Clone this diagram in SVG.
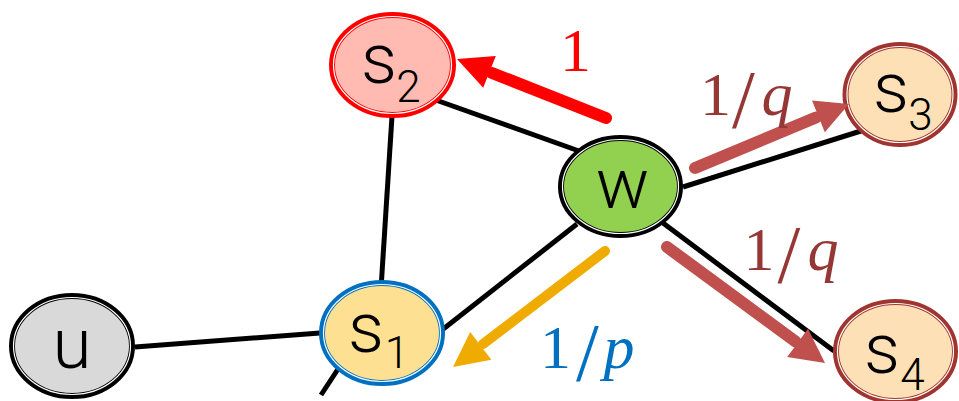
<svg xmlns="http://www.w3.org/2000/svg" width="959" height="401" viewBox="0 0 959 401">
<defs>
<style>
.edge{stroke:#000;stroke-width:5;fill:none;stroke-linecap:butt}
.node{stroke-width:6}
.gap{fill:none;stroke:#fff;stroke-width:1.2}
.lbl{font-family:Roboto,"Liberation Sans",sans-serif;font-weight:300;fill:#000;text-anchor:middle}
.main{font-size:71px}
.sub{font-size:44px}
.math{font-family:"Liberation Serif","DejaVu Serif",serif;font-size:62px;text-anchor:middle}
.sl{font-size:82px}
.it{font-style:italic}
.shaft{fill:none;stroke-linecap:round}
</style>
</defs>
<rect width="959" height="401" fill="#fff"/>
<g id="connectors">
<line class="edge" x1="135" y1="347" x2="320" y2="333"/>
<line class="edge" x1="392" y1="116" x2="381.5" y2="281"/>
<line class="edge" x1="433" y1="99" x2="579" y2="151"/>
<line class="edge" x1="683" y1="187" x2="864" y2="130"/>
<line class="edge" x1="663" y1="223" x2="834" y2="351"/>
<line class="edge" x1="577" y1="224" x2="442" y2="330"/>
<line class="edge" x1="340" y1="366" x2="321" y2="395"/>
</g>
<g id="node-u">
<ellipse class="node" cx="72" cy="346" rx="60" ry="50" fill="#d9d9d9" stroke="#000"/>
<ellipse class="gap" cx="72" cy="346" rx="58.5" ry="48.5"/>
<text class="lbl main" x="72" y="368">u</text>
</g>
<g id="node-s1">
<ellipse class="node" cx="382" cy="333" rx="60" ry="50" fill="#fee093" stroke="#0070c0"/>
<ellipse class="gap" cx="382" cy="333" rx="58.5" ry="48.5"/>
<text class="lbl"><tspan class="main" x="366" y="352">s</tspan><tspan class="sub" x="397" y="368">1</tspan></text>
</g>
<g id="node-s2">
<ellipse class="node" cx="392.5" cy="65" rx="60.5" ry="50" fill="#ffbab1" stroke="#ff0000"/>
<ellipse class="gap" cx="392.5" cy="65" rx="59" ry="48.5"/>
<text class="lbl"><tspan class="main" x="379" y="83">s</tspan><tspan class="sub" x="408.5" y="102">2</tspan></text>
</g>
<g id="node-w">
<ellipse class="node" cx="620.5" cy="186.5" rx="59.5" ry="48.5" fill="#92d050" stroke="#000"/>
<ellipse class="gap" cx="620.5" cy="186.5" rx="58" ry="47"/>
<text class="lbl main" x="622.5" y="208">w</text>
</g>
<g id="node-s3">
<ellipse class="node" cx="900" cy="94.5" rx="54.5" ry="49.5" fill="#fde0b6" stroke="#a0342f"/>
<ellipse class="gap" cx="900" cy="94.5" rx="53" ry="48"/>
<text class="lbl"><tspan class="main" x="891" y="112">s</tspan><tspan class="sub" x="920.5" y="130">3</tspan></text>
</g>
<g id="node-s4">
<ellipse class="node" cx="895.5" cy="351.5" rx="59.5" ry="49.5" fill="#fde0b6" stroke="#a0342f"/>
<ellipse class="gap" cx="895.5" cy="351.5" rx="58" ry="48"/>
<text class="lbl"><tspan class="main" x="882" y="373">s</tspan><tspan class="sub" x="912.5" y="390">4</tspan></text>
</g>
<g id="arrows">
<line class="shaft" x1="606" y1="118" x2="492" y2="73" stroke="#ff0000" stroke-width="12"/>
<polygon points="457,59 495.8,56.1 483.2,87.7" fill="#ff0000"/>
<line class="shaft" x1="695" y1="168" x2="816" y2="117.5" stroke="#c0504d" stroke-width="12"/>
<polygon points="849,104 812,100.6 824.8,132.2" fill="#c0504d"/>
<line class="shaft" x1="667" y1="247" x2="795.5" y2="341.5" stroke="#c0504d" stroke-width="12"/>
<polygon points="825,363 787.2,357 808,328.8" fill="#c0504d"/>
<line class="shaft" x1="605" y1="251" x2="483" y2="344" stroke="#f0ab00" stroke-width="10"/>
<polygon points="453,367 491.4,359.7 470.2,331.9" fill="#f0ab00"/>
</g>
<g id="labels">
<text class="math" fill="#ff0000" x="575.5" y="71">1</text>
<text class="math" fill="#953735"><tspan x="715.5" y="115">1</tspan><tspan class="sl" x="743.5" y="127">/</tspan><tspan class="it" x="777" y="115">q</tspan></text>
<text class="math" fill="#953735"><tspan x="759" y="270">1</tspan><tspan class="sl" x="789" y="282">/</tspan><tspan class="it" x="823" y="270">q</tspan></text>
<text class="math" fill="#0070c0"><tspan x="555.5" y="368">1</tspan><tspan class="sl" x="587.5" y="380">/</tspan><tspan class="it" x="619" y="368">p</tspan></text>
</g>
</svg>
